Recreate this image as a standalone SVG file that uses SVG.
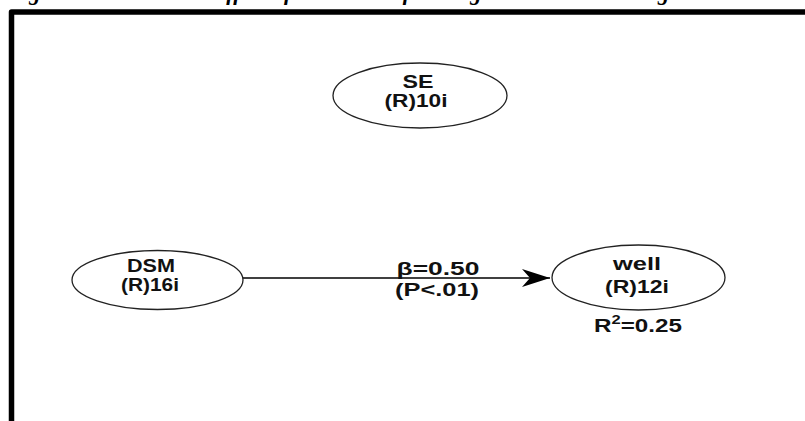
<svg xmlns="http://www.w3.org/2000/svg" width="805" height="421" viewBox="0 0 805 421">
<style>
.node{fill:#fff;stroke:#222;stroke-width:1.3}
.lbl{font-family:"Liberation Sans",Arial,sans-serif;font-weight:bold;font-size:19px;fill:#111;text-anchor:middle}
.edge{stroke:#000;stroke-width:1.3;fill:none}
.title{font-family:"Liberation Serif","Times New Roman",serif;font-weight:bold;font-style:italic;font-size:24px;fill:#000}
</style>
<defs>
<marker id="arr" markerWidth="30" markerHeight="20" refX="28" refY="9" orient="auto" markerUnits="userSpaceOnUse">
<path d="M0,0 L28,9 L0,18 L8,9 Z" fill="#000"/>
</marker>
</defs>
<rect width="805" height="421" fill="#fff"/>
<text class="title" x="8" y="0" textLength="795" lengthAdjust="spacingAndGlyphs">Figure 2. The relative effect of diabetes self-management on well-being at a later time</text>
<path d="M11.5,421 V12 H805" fill="none" stroke="#000" stroke-width="5.5" stroke-linejoin="round"/>
<g id="connectors">
<line class="edge" x1="243" y1="278" x2="550" y2="278" marker-end="url(#arr)"/>
<text class="lbl" x="438" y="275" textLength="83" lengthAdjust="spacingAndGlyphs">β=0.50</text>
<text class="lbl" x="437" y="296" textLength="84" lengthAdjust="spacingAndGlyphs">(P&lt;.01)</text>
</g>
<g id="SE">
<ellipse class="node" cx="420" cy="95.5" rx="87" ry="32.5"/>
<text class="lbl" x="418" y="88" textLength="31" lengthAdjust="spacingAndGlyphs">SE</text>
<text class="lbl" x="416" y="107" textLength="63" lengthAdjust="spacingAndGlyphs">(R)10i</text>
</g>
<g id="DSM">
<ellipse class="node" cx="157.5" cy="280" rx="85.5" ry="29.5"/>
<text class="lbl" x="151" y="272" textLength="48" lengthAdjust="spacingAndGlyphs">DSM</text>
<text class="lbl" x="150" y="291" textLength="58" lengthAdjust="spacingAndGlyphs">(R)16i</text>
</g>
<g id="well">
<ellipse class="node" cx="638.5" cy="277.5" rx="86.5" ry="32.5"/>
<text class="lbl" x="637" y="270" textLength="48" lengthAdjust="spacingAndGlyphs">well</text>
<text class="lbl" x="637" y="293" textLength="64" lengthAdjust="spacingAndGlyphs">(R)12i</text>
<text class="lbl" x="638" y="332" font-size="20" textLength="88" lengthAdjust="spacingAndGlyphs">R<tspan font-size="13" dy="-8">2</tspan><tspan dy="8">=0.25</tspan></text>
</g>
</svg>
